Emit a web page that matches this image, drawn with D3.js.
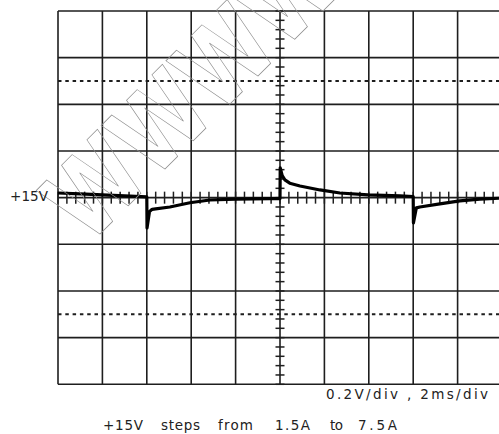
<!DOCTYPE html>
<html><head><meta charset="utf-8">
<script src="https://cdn.jsdelivr.net/npm/d3@7"></script>
<style>html,body{margin:0;padding:0;background:#fff;}svg{display:block;}</style>
</head><body>
<div id="chart"></div>
<script>
// --- data (divisions: time from left edge, volts from centre line) ---
const xDivs = [0,1,2,3,4,5,6,7,8,9,10];
const yDivs = [-4,-3,-2,-1,0,1,2,3,4];
const dashedDivs = [2.5,-2.5];
const traceTime = [0,0.5,1,1.5,2.0,2.005,2.06,2.12,2.2,2.52,2.97,3.42,4,4.77,5.0,5.005,5.05,5.11,5.22,5.45,5.9,6.35,6.98,7.7,8.0,8.005,8.07,8.15,8.6,9.05,9.5,10];
const traceVolt = [0.10,0.08,0.06,0.04,0.015,-0.65,-0.30,-0.25,-0.24,-0.20,-0.11,-0.05,-0.03,-0.02,-0.02,0.64,0.47,0.38,0.31,0.25,0.165,0.10,0.06,0.04,0.025,-0.54,-0.22,-0.20,-0.135,-0.07,-0.03,-0.01];
const levelLabel = "+15V";
const scaleLabel = "0.2V/div , 2ms/div";
const captionWords = ["+15V","steps","from","1.5A","to","7.5A"];
const watermarkText = "WWWW";

const W = 499, H = 434;
const svg = d3.select("#chart").append("svg").attr("width", W).attr("height", H);
const x = d3.scaleLinear().domain([0,10]).range([58,502]);
const y = d3.scaleLinear().domain([-4,4]).range([384.3,11]);
const ink = "#1e1e1e";
const font = "'DejaVu Sans', sans-serif";

// grid
const g = svg.append("g");
g.selectAll("line.v").data(xDivs).join("line").attr("class","v")
  .attr("x1",d=>x(d)).attr("x2",d=>x(d)).attr("y1",y(4)).attr("y2",y(-4))
  .attr("stroke",ink).attr("stroke-width",1.6);
g.selectAll("line.h").data(yDivs).join("line").attr("class","h")
  .attr("x1",x(0)).attr("x2",x(10)).attr("y1",d=>y(d)).attr("y2",d=>y(d))
  .attr("stroke",ink).attr("stroke-width",1.6);
g.selectAll("line.d").data(dashedDivs).join("line").attr("class","d")
  .attr("x1",x(0)).attr("x2",x(10)).attr("y1",d=>y(d)).attr("y2",d=>y(d))
  .attr("stroke",ink).attr("stroke-width",2).attr("stroke-dasharray","3.5,3.8");

// centre axis minor ticks
const hTicks = d3.range(0,50.5,1).map(i=>i*0.2);
const vTicks = d3.range(-20,20.5,1).map(i=>i*0.2);
g.selectAll("line.ht").data(hTicks).join("line").attr("class","ht")
  .attr("x1",d=>x(d)).attr("x2",d=>x(d)).attr("y1",y(0)-6).attr("y2",y(0)+6)
  .attr("stroke",ink).attr("stroke-width",1.5);
g.selectAll("line.vt").data(vTicks).join("line").attr("class","vt")
  .attr("x1",x(5)-4.5).attr("x2",x(5)+4.5).attr("y1",d=>y(d)).attr("y2",d=>y(d))
  .attr("stroke",ink).attr("stroke-width",1.5);

// trace
const pts = traceTime.map((t,i)=>[t,traceVolt[i]]);
svg.append("path").datum(pts)
  .attr("d", d3.line().x(d=>x(d[0])).y(d=>y(d[1])))
  .attr("fill","none").attr("stroke","#000").attr("stroke-width",3.2)
  .attr("stroke-linejoin","round");

// watermark
svg.append("text").text(watermarkText)
  .attr("transform","translate(88,246) rotate(-45) scale(0.8,1)")
  .attr("font-family","'DejaVu Sans', sans-serif").attr("font-weight","bold")
  .attr("font-size",104).attr("fill","none").attr("stroke","#8f8f8f").attr("stroke-width",0.75);

// labels
svg.append("text").text(levelLabel).attr("x",10).attr("y",201)
  .attr("font-family",font).attr("font-size",13.5).attr("fill","#222")
  .attr("textLength",38).attr("lengthAdjust","spacing");
svg.append("text").text(scaleLabel).attr("x",326).attr("y",398.5)
  .attr("font-family",font).attr("font-size",13.5).attr("fill","#222")
  .attr("textLength",162).attr("lengthAdjust","spacing");
const wordX = [103,161,218,275,330,358];
const wordW = [40,39,35,35,13,39];
const cap = svg.append("text").attr("y",430)
  .attr("font-family",font).attr("font-size",13.5).attr("fill","#222");
cap.selectAll("tspan").data(captionWords).join("tspan")
  .attr("x",(d,i)=>wordX[i]).text(d=>d)
  .attr("textLength",(d,i)=>wordW[i]).attr("lengthAdjust","spacing");
</script>
</body></html>
